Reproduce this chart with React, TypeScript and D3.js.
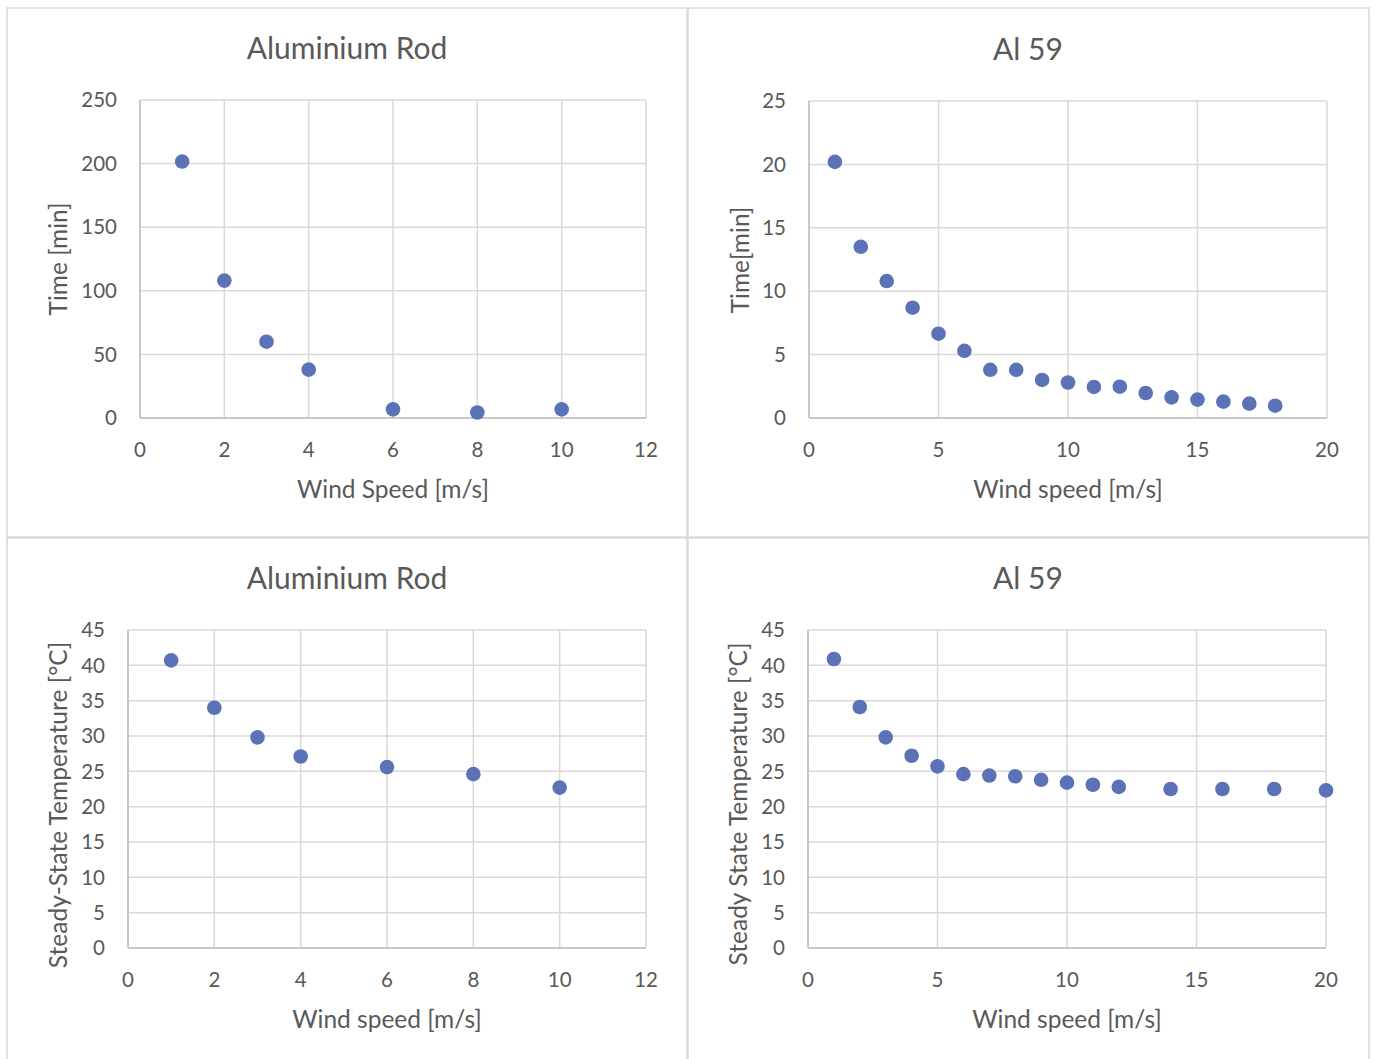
import React from "react";
import * as d3 from "d3";

// ---------- data ----------
const rodSpeed = [1, 2, 3, 4, 6, 8, 10];
const rodTime = [201.6, 108, 60, 38, 6.8, 4.3, 6.8];
const rodTemp = [40.7, 34.0, 29.8, 27.1, 25.6, 24.6, 22.7];

const al59SpeedTime = [1, 2, 3, 4, 5, 6, 7, 8, 9, 10, 11, 12, 13, 14, 15, 16, 17, 18];
const al59Time = [20.2, 13.5, 10.8, 8.7, 6.65, 5.3, 3.8, 3.8, 3.0, 2.8, 2.45, 2.47, 1.97, 1.63, 1.45, 1.29, 1.13, 0.97];

const al59SpeedTemp = [1, 2, 3, 4, 5, 6, 7, 8, 9, 10, 11, 12, 14, 16, 18, 20];
const al59Temp = [40.9, 34.1, 29.8, 27.2, 25.7, 24.6, 24.4, 24.3, 23.8, 23.4, 23.1, 22.8, 22.5, 22.5, 22.5, 22.3];

const rodXTicks = [0, 2, 4, 6, 8, 10, 12];
const al59XTicks = [0, 5, 10, 15, 20];
const timeRodYTicks = [0, 50, 100, 150, 200, 250];
const timeAl59YTicks = [0, 5, 10, 15, 20, 25];
const tempYTicks = [0, 5, 10, 15, 20, 25, 30, 35, 40, 45];

const FONT = "Lato, 'Open Sans', sans-serif";
const TEXT = "#595959";
const GRID = "#d9d9d9";
const DOT = "#5b73b6";

type PanelProps = {
  box: [number, number, number, number];
  plot: { left: number; right: number; top: number; bottom: number };
  title: string;
  titleX: number;
  titleY: number;
  xLabel: string;
  xLabelX: number;
  xLabelY: number;
  yLabel: string;
  yLabelX: number;
  yLabelY: number;
  xs: number[];
  ys: number[];
  xTicks: number[];
  yTicks: number[];
};

function Panel(p: PanelProps) {
  const x = d3
    .scaleLinear()
    .domain([p.xTicks[0], p.xTicks[p.xTicks.length - 1]])
    .range([p.plot.left, p.plot.right]);
  const y = d3
    .scaleLinear()
    .domain([p.yTicks[0], p.yTicks[p.yTicks.length - 1]])
    .range([p.plot.bottom, p.plot.top]);
  const [bx, by, bw, bh] = p.box;
  return (
    <g>
      <rect x={bx} y={by} width={bw} height={bh} fill="#fff" stroke={GRID} strokeWidth={1.5} />
      {p.yTicks.map((t) => (
        <line key={"hy" + t} x1={p.plot.left} x2={p.plot.right} y1={y(t)} y2={y(t)} stroke={GRID} strokeWidth={1.5} />
      ))}
      {p.xTicks.map((t) => (
        <line key={"vx" + t} x1={x(t)} x2={x(t)} y1={p.plot.top} y2={p.plot.bottom} stroke={GRID} strokeWidth={1.5} />
      ))}
      <line x1={p.plot.left} x2={p.plot.right} y1={p.plot.bottom} y2={p.plot.bottom} stroke="#bfbfbf" strokeWidth={1.5} />
      <line x1={p.plot.left} x2={p.plot.left} y1={p.plot.top} y2={p.plot.bottom} stroke="#bfbfbf" strokeWidth={1.5} />
      {p.yTicks.map((t) => (
        <text key={"ty" + t} x={p.plot.left - 23} y={y(t)} dy="0.35em" textAnchor="end" fontSize={20.5} fill={TEXT} fontFamily={FONT}>
          {t}
        </text>
      ))}
      {p.xTicks.map((t) => (
        <text key={"tx" + t} x={x(t)} y={p.plot.bottom + 32} dy="0.35em" textAnchor="middle" fontSize={20.5} fill={TEXT} fontFamily={FONT}>
          {t}
        </text>
      ))}
      {p.xs.map((v, i) => (
        <circle key={"d" + i} cx={x(v)} cy={y(p.ys[i])} r={7.3} fill={DOT} />
      ))}
      <text x={p.titleX} y={p.titleY} dy="0.35em" textAnchor="middle" fontSize={30} fill={TEXT} fontFamily={FONT}>
        {p.title}
      </text>
      <text x={p.xLabelX} y={p.xLabelY} dy="0.35em" textAnchor="middle" fontSize={24.5} fill={TEXT} fontFamily={FONT}>
        {p.xLabel}
      </text>
      <text
        transform={`translate(${p.yLabelX},${p.yLabelY}) rotate(-90)`}
        dy="0.35em"
        textAnchor="middle"
        fontSize={24.5}
        fill={TEXT}
        fontFamily={FONT}
      >
        {p.yLabel}
      </text>
    </g>
  );
}

export default function App() {
  return (
    <svg width={1374} height={1059} style={{ position: "absolute", left: 0, top: 0, background: "#fff" }}>
      <Panel
        box={[7, 8, 680, 529]}
        plot={{ left: 140, right: 646, top: 100, bottom: 418 }}
        title="Aluminium Rod"
        titleX={347}
        titleY={48}
        xLabel="Wind Speed [m/s]"
        xLabelX={393}
        xLabelY={489}
        yLabel="Time [min]"
        yLabelX={58}
        yLabelY={259}
        xs={rodSpeed}
        ys={rodTime}
        xTicks={rodXTicks}
        yTicks={timeRodYTicks}
      />
      <Panel
        box={[688, 8, 681, 529]}
        plot={{ left: 809, right: 1327, top: 101, bottom: 418 }}
        title="Al 59"
        titleX={1028}
        titleY={49}
        xLabel="Wind speed [m/s]"
        xLabelX={1068}
        xLabelY={489}
        yLabel="Time[min]"
        yLabelX={740}
        yLabelY={260}
        xs={al59SpeedTime}
        ys={al59Time}
        xTicks={al59XTicks}
        yTicks={timeAl59YTicks}
      />
      <Panel
        box={[7, 538, 680, 530]}
        plot={{ left: 128, right: 646, top: 630, bottom: 948 }}
        title="Aluminium Rod"
        titleX={347}
        titleY={578}
        xLabel="Wind speed [m/s]"
        xLabelX={387}
        xLabelY={1019}
        yLabel="Steady-State Temperature [°C]"
        yLabelX={58}
        yLabelY={805}
        xs={rodSpeed}
        ys={rodTemp}
        xTicks={rodXTicks}
        yTicks={tempYTicks}
      />
      <Panel
        box={[688, 538, 681, 530]}
        plot={{ left: 808, right: 1326, top: 630, bottom: 948 }}
        title="Al 59"
        titleX={1028}
        titleY={578}
        xLabel="Wind speed [m/s]"
        xLabelX={1067}
        xLabelY={1019}
        yLabel="Steady State Temperature [°C]"
        yLabelX={738}
        yLabelY={804}
        xs={al59SpeedTemp}
        ys={al59Temp}
        xTicks={al59XTicks}
        yTicks={tempYTicks}
      />
    </svg>
  );
}
